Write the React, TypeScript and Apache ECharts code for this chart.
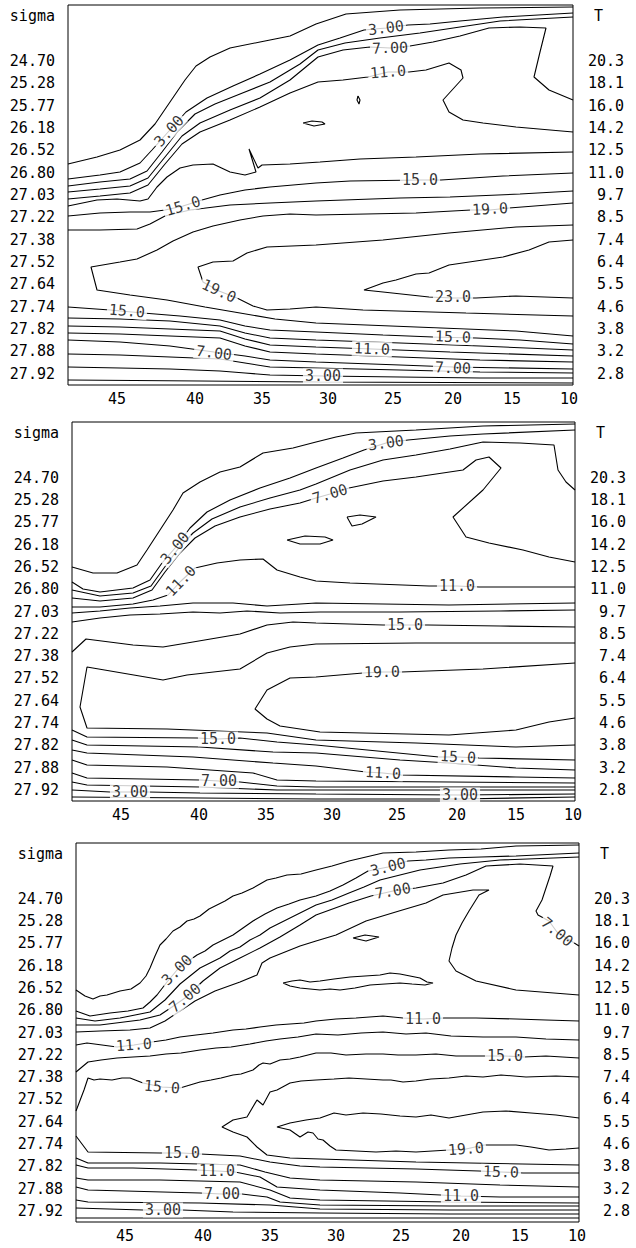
import React, { useEffect, useRef } from 'react';
import * as echarts from 'echarts';

const FONT = '"DejaVu Sans Mono", "Liberation Mono", monospace';

// ---- axis tick labels ----
const xTickPos = [49, 127, 194, 260, 325, 385, 444, 501];
const xTickLabels = ['45', '40', '35', '30', '25', '20', '15', '10'];
const sigmaLabels = ['24.70', '25.28', '25.77', '26.18', '26.52', '26.80', '27.03', '27.22', '27.38', '27.52', '27.64', '27.74', '27.82', '27.88', '27.92'];
const tempLabels = ['20.3', '18.1', '16.0', '14.2', '12.5', '11.0', '9.7', '8.5', '7.4', '6.4', '5.5', '4.6', '3.8', '3.2', '2.8'];

type Pt = [number, number];
type Lbl = [number, number, string, number];

// ---- panel 1 contours (distance, depth units) ----
const p1c1: Pt[] = [[0,159],[29,152],[52,145],[72,135],[87,119],[102,97],[117,75],[128,61],[142,52],[162,43],[192,37],[222,31],[248,19],[278,9],[332,5],[412,3],[505,2]];
const p1c2: Pt[] = [[0,174],[32,170],[52,167],[72,158],[84,145],[101,126],[118,107],[139,93],[165,81],[192,69],[222,55],[250,40],[272,33],[296,25],[318,23],[340,20],[362,19],[392,16],[435,12],[505,8]];
const p1c3: Pt[] = [[0,181],[32,177],[62,174],[79,166],[94,147],[110,126],[127,109],[147,99],[172,89],[202,77],[232,59],[250,45],[277,38],[312,33],[352,28],[392,22],[432,16],[505,12]];
const p1c4: Pt[] = [[0,187],[32,184],[62,181],[80,173],[97,152],[114,131],[132,118],[162,105],[192,93],[222,75],[250,52],[275,45],[302,42],[322,43],[342,41],[365,37],[392,31],[421,23],[452,22],[478,23],[472,47],[466,72],[481,85],[505,95]];
const p1c5: Pt[] = [[0,194],[32,191],[62,188],[80,180],[97,159],[114,139],[132,127],[162,115],[192,102],[222,88],[250,77],[275,75],[300,72],[320,67],[341,67],[358,65],[381,58],[393,65],[395,73],[375,95],[381,107],[395,115],[415,118],[448,122],[505,127]];
const p1c6: Pt[] = [[0,201],[29,195],[49,194],[72,196],[80,194],[89,182],[99,172],[112,163],[125,160],[145,159],[162,167],[177,170],[188,167],[181,144],[190,163],[194,160],[222,159],[252,157],[292,154],[348,152],[412,149],[505,147]];
const p1eye: Pt[] = [[235,118],[244,116],[254,117],[257,119],[246,121],[235,118]];
const p1dot: Pt[] = [[290,91],[292,95],[291,99],[289,95],[290,91]];
const p1c7: Pt[] = [[0,211],[32,208],[62,207],[82,207],[97,205],[115,201],[134,195],[152,190],[177,185],[202,182],[248,178],[282,176],[352,175],[373,175],[435,171],[505,168]];
const p1c8: Pt[] = [[0,225],[32,225],[69,224],[82,219],[97,211],[122,205],[162,200],[202,198],[248,196],[332,193],[382,192],[452,189],[505,186]];
const p1c9: Pt[] = [[505,198],[441,203],[422,205],[403,205],[348,208],[248,210],[222,209],[195,211],[172,215],[145,221],[125,227],[105,236],[89,245],[69,254],[52,257],[23,262],[29,285],[62,290],[99,295],[137,302],[172,308],[207,314],[248,318],[348,322],[448,326],[505,331]];
const p1c10: Pt[] = [[505,220],[448,222],[381,228],[315,235],[248,240],[199,242],[179,248],[165,256],[145,257],[130,262],[135,277],[151,286],[169,293],[185,301],[199,305],[222,304],[248,302],[295,305],[398,308],[505,311]];
const p1c11: Pt[] = [[505,235],[481,237],[461,245],[435,252],[381,260],[361,268],[348,269],[328,275],[315,278],[296,285],[315,287],[361,292],[385,293],[408,293],[448,291],[505,293]];
const p1c12: Pt[] = [[0,302],[42,305],[75,308],[112,311],[152,315],[177,321],[202,325],[248,327],[315,330],[365,332],[408,333],[452,335],[505,339]];
const p1c13: Pt[] = [[0,313],[52,314],[102,316],[152,321],[177,328],[202,333],[248,335],[332,338],[412,341],[505,345]];
const p1c14: Pt[] = [[0,321],[52,322],[102,324],[152,326],[177,334],[202,340],[248,342],[304,344],[382,347],[505,351]];
const p1c15: Pt[] = [[0,328],[52,329],[102,331],[152,333],[177,341],[202,347],[248,349],[332,352],[412,355],[505,357]];
const p1c16: Pt[] = [[0,335],[52,337],[102,341],[146,347],[177,351],[202,355],[248,357],[332,360],[385,362],[505,364]];
const p1c17: Pt[] = [[0,349],[52,350],[102,352],[152,354],[177,358],[202,362],[248,363],[332,365],[412,367],[505,368]];
const p1c18: Pt[] = [[0,362],[52,363],[102,364],[152,366],[177,368],[202,370],[255,371],[332,372],[412,373],[505,373]];
const p1c19: Pt[] = [[0,375],[132,376],[252,377],[505,378]];
const panel1Lines: Pt[][] = [p1c1, p1c2, p1c3, p1c4, p1c5, p1c6, p1eye, p1dot, p1c7, p1c8, p1c9, p1c10, p1c11, p1c12, p1c13, p1c14, p1c15, p1c16, p1c17, p1c18, p1c19];
const panel1Labels: Lbl[] = [[101,126,'3.00',48],[318,23,'3.00',7],[322,43,'7.00',2],[320,67,'11.0',5],[115,201,'15.0',17],[352,175,'15.0',0],[422,204,'19.0',3],[151,286,'19.0',-25],[385,292,'23.0',0],[59,306,'15.0',-5],[146,348,'7.00',-7],[385,332,'15.0',-2],[304,344,'11.0',-2],[385,363,'7.00',-2],[255,371,'3.00',0]];

// ---- panel 2 contours ----
const p2c1: Pt[] = [[0,145],[21,151],[45,151],[65,143],[75,128],[88,108],[101,88],[111,71],[128,60],[148,50],[168,45],[191,31],[221,26],[244,20],[264,15],[284,11],[344,8],[411,4],[503,2]];
const p2c2: Pt[] = [[0,160],[11,167],[28,170],[61,166],[78,158],[90,141],[103,126],[118,106],[135,90],[158,78],[188,66],[218,56],[244,46],[271,36],[292,28],[314,21],[336,18],[378,14],[411,12],[503,8]];
const p2c3: Pt[] = [[0,168],[28,174],[61,171],[79,164],[92,146],[106,127],[121,111],[140,97],[168,85],[198,76],[228,68],[244,62],[278,48],[311,38],[344,33],[378,27],[411,20],[448,21],[482,23],[486,48],[494,60],[503,68]];
const p2c4: Pt[] = [[0,176],[28,179],[61,176],[80,168],[93,150],[108,131],[123,116],[143,104],[168,95],[198,87],[228,81],[244,76],[258,72],[277,66],[311,59],[344,55],[391,48],[404,38],[417,35],[429,46],[411,68],[381,95],[394,115],[417,121],[451,128],[477,135],[503,140]];
const p2c5: Pt[] = [[0,185],[28,185],[61,182],[81,178],[96,173],[109,159],[123,146],[145,141],[168,138],[191,137],[205,148],[228,155],[244,159],[278,161],[357,164],[385,164],[407,165],[448,165],[503,165]];
const p2eye: Pt[] = [[215,118],[233,114],[253,115],[261,118],[248,122],[228,122],[215,118]];
const p2small: Pt[] = [[275,95],[288,93],[304,95],[290,102],[280,104],[275,95]];
const p2c6: Pt[] = [[0,191],[28,189],[58,186],[88,184],[121,181],[161,181],[195,184],[228,182],[244,181],[377,183],[503,181]];
const p2c7: Pt[] = [[0,200],[28,196],[58,193],[88,192],[121,190],[148,191],[175,189],[208,191],[248,190],[328,190],[428,189],[503,188]];
const p2c8: Pt[] = [[0,230],[14,217],[61,223],[91,225],[115,221],[168,212],[195,203],[221,200],[244,201],[311,203],[333,203],[356,203],[428,204],[503,205]];
const p2c9: Pt[] = [[503,221],[344,221],[244,222],[218,225],[195,231],[168,247],[115,253],[91,258],[15,245],[8,285],[15,306],[95,307],[195,311],[244,318],[344,321],[444,325],[503,323]];
const p2c10: Pt[] = [[503,241],[411,247],[329,250],[310,250],[291,251],[244,255],[218,256],[195,268],[183,287],[195,297],[208,304],[248,310],[377,313],[444,308],[477,300],[503,296]];
const p2c11: Pt[] = [[0,308],[15,315],[125,316],[146,317],[168,316],[205,320],[244,323],[367,335],[386,335],[407,336],[503,338]];
const p2c12: Pt[] = [[0,318],[15,323],[128,325],[201,330],[244,331],[328,338],[377,341],[444,346],[503,348]];
const p2c13: Pt[] = [[0,328],[15,331],[121,335],[201,341],[244,344],[294,350],[311,351],[329,353],[444,355],[503,356]];
const p2c14: Pt[] = [[0,338],[15,343],[95,345],[181,351],[205,358],[244,359],[378,360],[503,361]];
const p2c15: Pt[] = [[0,351],[15,356],[128,358],[147,359],[168,360],[205,364],[244,365],[378,365],[503,365]];
const p2c16: Pt[] = [[0,360],[15,363],[128,365],[205,368],[244,368],[378,368],[503,368]];
const p2c17: Pt[] = [[0,368],[38,370],[76,370],[128,371],[244,372],[388,373],[503,372]];
const p2c18: Pt[] = [[0,375],[128,376],[244,377],[388,377],[503,375]];
const panel2Lines: Pt[][] = [p2c1, p2c2, p2c3, p2c4, p2c5, p2eye, p2small, p2c6, p2c7, p2c8, p2c9, p2c10, p2c11, p2c12, p2c13, p2c14, p2c15, p2c16, p2c17, p2c18];
const panel2Labels: Lbl[] = [[103,126,'3.00',51],[314,21,'3.00',8],[258,72,'7.00',17],[109,159,'11.0',46],[385,164,'11.0',0],[333,203,'15.0',0],[310,250,'19.0',1],[146,317,'15.0',0],[386,335,'15.0',-3],[311,351,'11.0',-3],[147,359,'7.00',0],[58,370,'3.00',0],[388,373,'3.00',0]];

// ---- panel 3 contours ----
const p3c1: Pt[] = [[0,147],[9,153],[17,156],[24,153],[31,152],[44,148],[55,146],[64,140],[70,133],[74,125],[79,113],[84,102],[90,96],[97,88],[104,84],[111,78],[118,76],[124,73],[133,66],[141,62],[149,58],[157,53],[166,50],[177,45],[184,41],[191,37],[200,35],[211,32],[225,31],[240,27],[256,23],[273,18],[290,14],[307,10],[340,9],[373,7],[405,6],[440,3],[503,2]];
const p3c2: Pt[] = [[0,168],[14,173],[34,170],[52,168],[67,165],[74,159],[81,152],[91,139],[101,127],[111,119],[121,112],[129,108],[137,102],[147,97],[157,92],[167,85],[177,78],[189,71],[201,65],[213,61],[224,57],[240,53],[254,48],[267,42],[280,35],[292,28],[312,24],[332,18],[350,17],[373,15],[405,14],[440,13],[503,10]];
const p3c3: Pt[] = [[0,175],[19,178],[44,175],[74,169],[89,157],[104,141],[114,133],[124,125],[144,115],[154,108],[164,104],[174,97],[184,92],[194,85],[204,80],[224,70],[240,62],[256,57],[273,50],[288,44],[304,37],[324,32],[344,27],[364,24],[384,21],[424,17],[503,14]];
const p3c4: Pt[] = [[0,182],[24,182],[64,177],[84,172],[96,164],[109,155],[127,138],[144,125],[164,115],[184,105],[204,94],[224,82],[240,72],[273,60],[295,53],[317,48],[340,45],[367,40],[390,32],[410,23],[444,21],[477,23],[474,33],[470,45],[466,57],[460,68],[462,72],[473,78],[481,89],[503,103]];
const p3c5: Pt[] = [[0,189],[24,188],[54,187],[74,185],[89,178],[104,168],[119,158],[139,148],[164,139],[181,132],[186,120],[194,115],[209,109],[224,103],[240,98],[260,92],[290,78],[323,68],[350,60],[367,52],[397,47],[413,47],[403,52],[393,68],[386,80],[380,92],[376,105],[373,118],[380,128],[400,138],[440,147],[503,152]];
const p3eye: Pt[] = [[207,140],[216,138],[224,137],[234,139],[244,138],[258,136],[274,134],[289,133],[304,132],[314,130],[324,131],[334,133],[344,135],[351,139],[357,140],[349,142],[336,141],[324,140],[309,141],[294,142],[279,145],[264,147],[254,146],[244,147],[234,146],[224,145],[214,143],[207,140]];
const p3small: Pt[] = [[277,95],[289,92],[303,94],[290,98],[277,95]];
const p3c6: Pt[] = [[0,202],[11,200],[41,204],[58,202],[76,199],[90,197],[104,194],[120,192],[137,190],[157,187],[170,186],[184,184],[200,182],[214,181],[228,180],[240,178],[260,176],[280,175],[307,173],[327,175],[347,176],[368,175],[400,175],[440,176],[470,177],[503,178]];
const p3c7: Pt[] = [[0,229],[12,219],[25,217],[41,215],[57,214],[74,213],[90,211],[105,210],[124,207],[140,205],[155,204],[174,201],[190,198],[204,196],[222,194],[240,191],[262,192],[285,190],[307,189],[330,191],[350,190],[375,193],[407,194],[440,194],[470,196],[503,197]];
const p3c8: Pt[] = [[0,268],[8,247],[12,235],[18,237],[24,236],[36,237],[46,235],[54,235],[67,240],[86,244],[104,245],[114,242],[124,239],[135,237],[145,235],[157,232],[165,231],[177,227],[183,222],[187,220],[194,221],[204,217],[214,216],[224,214],[232,212],[240,210],[255,210],[270,212],[290,211],[307,211],[322,212],[340,212],[360,211],[380,213],[407,213],[429,213],[448,214],[470,213],[503,215]];
const p3c9: Pt[] = [[503,234],[480,233],[450,234],[425,232],[407,234],[390,233],[373,235],[355,236],[340,238],[327,239],[315,237],[307,237],[290,236],[273,235],[258,236],[240,237],[225,238],[214,240],[201,247],[194,249],[187,262],[181,257],[171,274],[157,277],[146,284],[157,289],[171,294],[181,304],[191,312],[214,315],[244,316],[340,319],[503,322]];
const p3c10: Pt[] = [[503,275],[480,272],[455,270],[430,268],[407,269],[390,272],[373,275],[355,272],[340,274],[324,273],[305,271],[287,270],[270,272],[258,270],[244,275],[230,277],[214,280],[201,284],[214,287],[224,294],[232,289],[237,290],[242,296],[247,297],[254,303],[260,307],[280,308],[300,309],[320,308],[340,309],[373,307],[390,306],[408,302],[440,302],[455,304],[473,307],[490,306],[503,305]];
const p3c11: Pt[] = [[0,293],[12,309],[84,310],[106,310],[124,311],[164,313],[194,319],[224,323],[244,324],[340,326],[403,328],[425,329],[447,330],[503,330]];
const p3c12: Pt[] = [[0,315],[12,320],[84,320],[164,322],[189,329],[214,335],[244,337],[340,339],[424,342],[503,344]];
const p3c13: Pt[] = [[0,322],[12,325],[57,325],[121,327],[141,328],[159,329],[184,334],[201,344],[244,347],[324,350],[385,353],[424,354],[503,354]];
const p3c14: Pt[] = [[0,335],[12,337],[84,337],[164,339],[194,347],[214,355],[244,357],[374,359],[503,360]];
const p3c15: Pt[] = [[0,344],[12,347],[124,350],[146,351],[166,351],[191,354],[204,359],[244,362],[374,363],[503,363]];
const p3c16: Pt[] = [[0,357],[12,359],[124,360],[194,362],[244,366],[374,367],[503,367]];
const p3c17: Pt[] = [[0,365],[67,367],[87,367],[106,367],[157,369],[244,370],[374,371],[503,371]];
const p3c18: Pt[] = [[0,375],[124,375],[244,375],[374,375],[503,375]];
const panel3Lines: Pt[][] = [p3c1, p3c2, p3c3, p3c4, p3c5, p3eye, p3small, p3c6, p3c7, p3c8, p3c9, p3c10, p3c11, p3c12, p3c13, p3c14, p3c15, p3c16, p3c17, p3c18];
const panel3Labels: Lbl[] = [[101,127,'3.00',45],[109,155,'7.00',40],[312,24,'3.00',14],[317,48,'7.00',10],[481,89,'7.00',-40],[347,176,'11.0',0],[58,202,'11.0',4],[86,244,'15.0',-5],[429,213,'15.0',0],[390,306,'19.0',4],[106,310,'15.0',0],[425,329,'15.0',-2],[141,328,'11.0',0],[385,353,'11.0',0],[146,351,'7.00',0],[87,367,'3.00',0]];

const rowKey = (v: number) => Math.round(v * 2) / 2;

export default function App() {
  const ref = useRef<HTMLDivElement>(null);
  useEffect(() => {
    if (!ref.current) return;
    const chart = echarts.init(ref.current, null, { renderer: 'svg' });
    const panels = [
      { lines: panel1Lines, labels: panel1Labels, left: 68, top: 5, width: 505, height: 380, xMax: 505, yMax: 380 },
      { lines: panel2Lines, labels: panel2Labels, left: 72, top: 422, width: 503, height: 379, xMax: 503, yMax: 379 },
      { lines: panel3Lines, labels: panel3Labels, left: 76, top: 843, width: 503, height: 379, xMax: 503, yMax: 379 },
    ];
    const txt = { color: '#000', fontFamily: FONT, fontSize: 15 };
    const grid: any[] = [];
    const xAxis: any[] = [];
    const yAxis: any[] = [];
    const series: any[] = [];
    panels.forEach((p, i) => {
      grid.push({ left: p.left, top: p.top, width: p.width, height: p.height, show: true, borderColor: '#000', borderWidth: 1, backgroundColor: 'transparent' });
      xAxis.push({
        type: 'value', gridIndex: i, min: 0, max: p.xMax, interval: 1,
        axisLine: { show: false }, axisTick: { show: false }, splitLine: { show: false },
        axisLabel: {
          ...txt, margin: 6, showMinLabel: true, showMaxLabel: true,
          formatter: (v: number) => { const k = xTickPos.indexOf(Math.round(v)); return k >= 0 ? xTickLabels[k] : ''; },
        },
      });
      yAxis.push({ type: 'value', gridIndex: i, min: 0, max: p.yMax, inverse: true, show: false });
      yAxis.push({
        type: 'value', gridIndex: i, position: 'left', min: -1.5, max: 15.5, interval: 0.5, inverse: true,
        axisLine: { show: false }, axisTick: { show: false }, splitLine: { show: false },
        axisLabel: {
          ...txt, margin: 13, showMinLabel: true, showMaxLabel: true,
          formatter: (v: number) => { const r = rowKey(v); if (r === -1) return 'sigma'; if (Number.isInteger(r) && r >= 1 && r <= 15) return sigmaLabels[r - 1]; return ''; },
        },
      });
      yAxis.push({
        type: 'value', gridIndex: i, position: 'right', min: -1.5, max: 15.5, interval: 0.5, inverse: true,
        axisLine: { show: false }, axisTick: { show: false }, splitLine: { show: false },
        axisLabel: {
          ...txt, margin: 51, align: 'right', showMinLabel: true, showMaxLabel: true,
          rich: { t: { ...txt, padding: [0, 21, 0, 0] } },
          formatter: (v: number) => { const r = rowKey(v); if (r === -1) return '{t|T}'; if (Number.isInteger(r) && r >= 1 && r <= 15) return tempLabels[r - 1]; return ''; },
        },
      });
      p.lines.forEach((ln) => {
        series.push({
          type: 'line', xAxisIndex: i, yAxisIndex: 3 * i, data: ln, symbol: 'none', showSymbol: false,
          lineStyle: { color: '#000', width: 1.1 }, silent: true, z: 2, animation: false,
        });
      });
      series.push({
        type: 'scatter', xAxisIndex: i, yAxisIndex: 3 * i, symbolSize: 1, silent: true, z: 10,
        itemStyle: { color: 'rgba(0,0,0,0)' },
        label: { show: true, position: 'inside', formatter: '{b}', ...txt, backgroundColor: '#fff', padding: [0, 2] },
        data: p.labels.map(([x, y, t, r]) => ({ value: [x, y], name: t, label: { rotate: r } })),
      });
    });
    chart.setOption({ animation: false, backgroundColor: '#fff', grid, xAxis, yAxis, series });
    return () => chart.dispose();
  }, []);
  return <div ref={ref} style={{ position: 'absolute', left: 0, top: 0, width: 636, height: 1248 }} />;
}
